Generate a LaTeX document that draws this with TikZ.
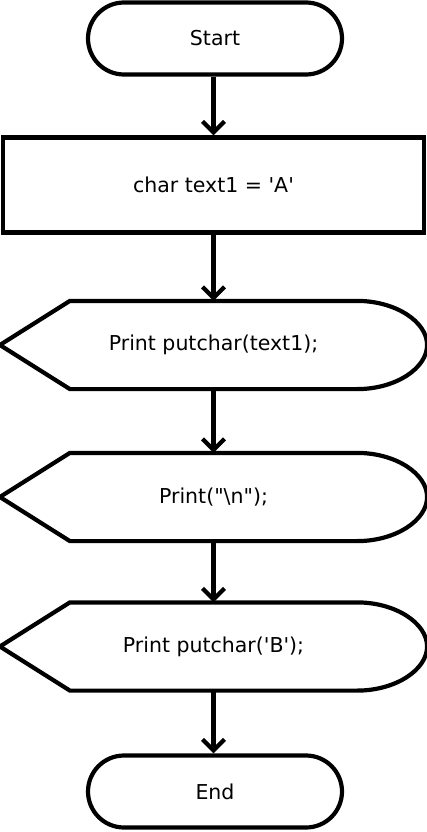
\documentclass[tikz,border=0pt]{standalone}
\usepackage{fontspec}
\setmainfont{DejaVu Sans}
\usetikzlibrary{arrows.meta}
\begin{document}
\begin{tikzpicture}[x=1pt,y=-1pt,
  every node/.style={font=\fontsize{20.5}{24}\selectfont, inner sep=0pt},
  line width=4.2pt,
  term/.style={draw, rounded corners=36pt, minimum width=254pt, minimum height=72pt},
  proc/.style={draw, minimum width=421pt, minimum height=95pt},
  disp/.style={minimum width=423pt, minimum height=84pt},
  flow/.style={-{Straight Barb[length=11pt,width=22pt,line join=miter]}}
]
\useasboundingbox (0,0) rectangle (427,832);
\node[term] (start) at (215,38.5) {Start};
\node[proc] (p1) at (213.5,185) {char text1 = \textquotesingle A\textquotesingle};
\node[disp] (d1) at (213.5,345) {Print putchar(text1);};
\node[disp] (d2) at (213.5,497) {Print(\textquotedbl\textbackslash n\textquotedbl);};
\node[disp] (d3) at (213.5,646.5) {Print putchar(\textquotesingle B\textquotesingle);};
\node[term] (end) at (215,791.5) {End};
\foreach \d in {d1,d2,d3}{
  \draw[line join=miter] (\d.west) -- ([xshift=70pt]\d.north west) -- ([xshift=-70pt]\d.north east)
     .. controls +(38.66,0) and +(0,-23.2) .. (\d.east)
     .. controls +(0,23.2) and +(38.66,0) .. ([xshift=-70pt]\d.south east)
     -- ([xshift=70pt]\d.south west) -- cycle;
}
\draw[flow] (start.south -| p1.north) -- (p1.north);
\draw[flow] (p1.south) -- (d1.north);
\draw[flow] (d1.south) -- (d2.north);
\draw[flow] (d2.south) -- (d3.north);
\draw[flow] (d3.south) -- (end.north -| d3.south);
\end{tikzpicture}
\end{document}
